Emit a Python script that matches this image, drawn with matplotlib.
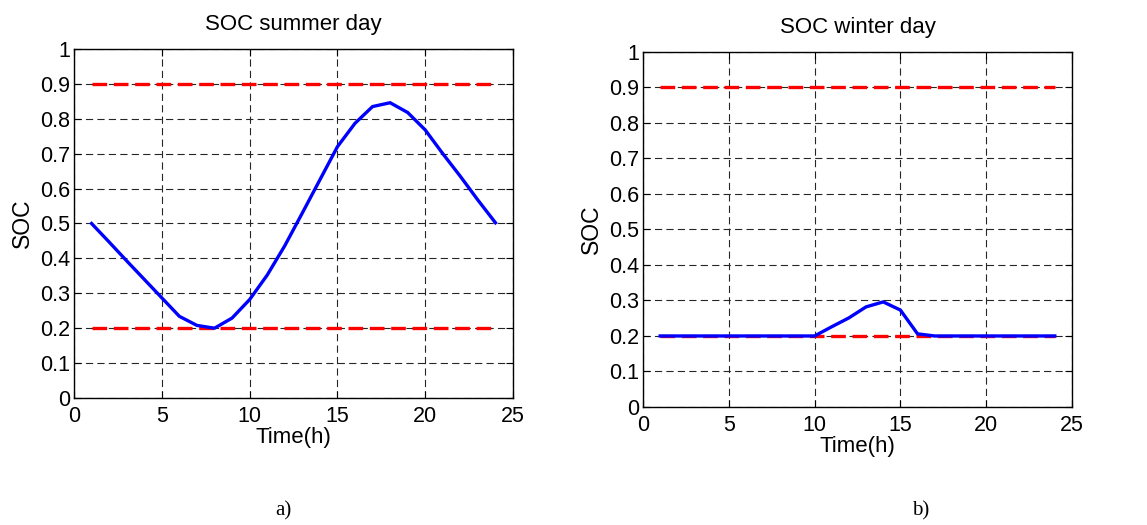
import matplotlib
matplotlib.use("Agg")
import matplotlib.pyplot as plt

plt.rcParams['font.family'] = ['Liberation Sans', 'DejaVu Sans']

hours = list(range(1, 25))
soc_summer = [0.50, 0.447, 0.393, 0.34, 0.287, 0.234, 0.208, 0.200, 0.229, 0.282,
              0.352, 0.436, 0.530, 0.625, 0.720, 0.787, 0.835, 0.846, 0.818, 0.768,
              0.700, 0.635, 0.567, 0.502]
soc_winter = [0.2, 0.2, 0.2, 0.2, 0.2, 0.2, 0.2, 0.2, 0.2, 0.2,
              0.226, 0.251, 0.282, 0.296, 0.273, 0.206, 0.2, 0.2, 0.2, 0.2,
              0.2, 0.2, 0.2, 0.2]
soc_max = [0.9] * 24
soc_min = [0.2] * 24
titles = ["SOC summer day", "SOC winter day"]
captions = ["a)", "b)"]
xticks = [0, 5, 10, 15, 20, 25]
yticks = [0, 0.1, 0.2, 0.3, 0.4, 0.5, 0.6, 0.7, 0.8, 0.9, 1]
yticklabels = ["0", "0.1", "0.2", "0.3", "0.4", "0.5", "0.6", "0.7", "0.8", "0.9", "1"]

fig = plt.figure(figsize=(11.47, 5.25), dpi=100)
positions = [[0.0645, 0.2419, 0.3828, 0.6648], [0.5606, 0.2248, 0.3740, 0.6762]]
series = [soc_summer, soc_winter]
fs = 15.5

for pos, title, soc in zip(positions, titles, series):
    ax = fig.add_axes(pos)
    ax.plot(hours, soc_max, color='red', lw=2.4, ls=(0, (4.4, 2.0)), zorder=3)
    ax.plot(hours, soc_min, color='red', lw=2.4, ls=(0, (4.4, 2.0)), zorder=3)
    ax.plot(hours, soc, color='blue', lw=2.4, zorder=4, solid_joinstyle='miter')
    ax.set_xlim(0, 25)
    ax.set_ylim(0, 1)
    ax.set_xticks(xticks)
    ax.set_yticks(yticks)
    ax.set_yticklabels(yticklabels)
    ax.grid(True, color='0.15', lw=0.8, ls=(0, (6.5, 3.8)))
    ax.tick_params(direction='in', top=True, right=True, length=5, width=0.8,
                   labelsize=fs)
    ax.tick_params(axis='x', pad=6)
    ax.tick_params(axis='y', pad=3)
    for s in ax.spines.values():
        s.set_linewidth(1.0)
    ax.set_title(title, fontsize=16, pad=14)
    ax.set_xlabel("Time(h)", fontsize=16, labelpad=0)
    ax.set_ylabel("SOC", fontsize=16.5, labelpad=4)

fig.text(283 / 1147, 1 - 511 / 525, captions[0], fontsize=15, ha='center', va='center',
         family=['Liberation Serif', 'DejaVu Serif'])
fig.text(921 / 1147, 1 - 511 / 525, captions[1], fontsize=15, ha='center', va='center',
         family=['Liberation Serif', 'DejaVu Serif'])

fig.savefig("out.png", dpi=100)
